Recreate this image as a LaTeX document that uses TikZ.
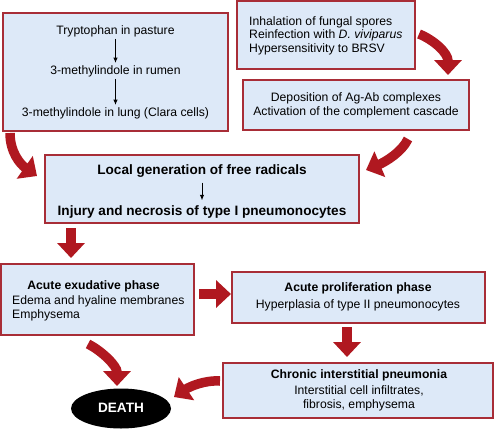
\documentclass[tikz,border=0pt]{standalone}
\usepackage{fontspec}
\setmainfont{Liberation Sans}
\usetikzlibrary{arrows.meta,shapes.geometric}
\definecolor{boxfill}{RGB}{221,233,248}
\definecolor{boxline}{RGB}{168,45,55}
\definecolor{arrred}{RGB}{176,24,32}
\begin{document}
\begin{tikzpicture}[x=1pt,y=-1pt,
  box/.style={draw=boxline, line width=1.3pt, fill=boxfill, inner sep=0pt},
  txt/.style={font=\fontsize{12.2}{14}\selectfont, inner sep=0pt, text height=8.9pt, text depth=2.6pt},
  btxt/.style={txt, font=\fontsize{12.2}{14}\selectfont\bfseries},
  bigtxt/.style={font=\fontsize{13.6}{16}\selectfont\bfseries, inner sep=0pt, text height=9.9pt, text depth=2.9pt},
  smallarr/.style={-{Latex[length=5.5pt,width=4.5pt]}, line width=1pt, shorten <=#1, shorten >=#1},
  bigarrow/.style={draw=arrred, line width=9.5pt, -{Triangle[length=15pt,width=27pt]}},
  straightarrow/.style={draw=arrred, line width=10pt, -{Triangle[length=15pt,width=27pt]}}
]
\useasboundingbox (0,0) rectangle (495,429);

% boxes
\node[box, minimum width=225pt, minimum height=118pt] (A) at (115.5,72) {};
\node[box, minimum width=178pt, minimum height=68pt] (B) at (326,35) {};
\node[box, minimum width=226pt, minimum height=50pt] (C) at (356,105) {};
\node[box, minimum width=314pt, minimum height=68pt] (D) at (202,189) {};
\node[box, minimum width=193pt, minimum height=71pt] (E) at (97.5,299.5) {};
\node[box, minimum width=253pt, minimum height=51pt] (F) at (358.5,297.5) {};
\node[box, minimum width=270pt, minimum height=55pt] (G) at (358,390.5) {};
\node[ellipse, fill=black, minimum width=100pt, minimum height=40pt, inner sep=0pt] (death) at (121,408.5) {};
\node[bigtxt, text=white] (deathtxt) at (death.center) {DEATH};

% box A
\node[txt] (a1) at (115.5,31) {Tryptophan in pasture};
\node[txt] (a2) at (115.5,71) {3-methylindole in rumen};
\node[txt] (a3) at (115.5,113) {3-methylindole in lung (Clara cells)};
\draw[smallarr=2pt] (a1) -- (a2);
\draw[smallarr=2pt] (a2) -- (a3);

% box B
\node[txt, anchor=west] (b1) at (249,22) {Inhalation of fungal spores};
\node[txt, anchor=west] (b2) at (249,35.5) {Reinfection with \textit{D. viviparus}};
\node[txt, anchor=west] (b3) at (249,49) {Hypersensitivity to BRSV};

% box C
\node[txt] (c1) at (356,98) {Deposition of Ag-Ab complexes};
\node[txt] (c2) at (356,112) {Activation of the complement cascade};

% box D
\node[bigtxt] (d1) at (202,171) {Local generation of free radicals};
\node[bigtxt] (d2) at (202,212) {Injury and necrosis of type I pneumonocytes};
\draw[smallarr=5pt] (d1) -- (d2);

% box E
\node[btxt] (e1) at (93.5,286) {Acute exudative phase};
\node[txt, anchor=west] (e2) at (12,301) {Edema and hyaline membranes};
\node[txt, anchor=west] (e3) at (12,315) {Emphysema};

% box F
\node[btxt] (f1) at (358,288) {Acute proliferation phase};
\node[txt] (f2) at (358,305) {Hyperplasia of type II pneumonocytes};

% box G
\node[btxt] (g1) at (359,375) {Chronic interstitial pneumonia};
\node[txt] (g2) at (359,391.5) {Interstitial cell infiltrates,};
\node[txt] (g3) at (359,405.5) {fibrosis, emphysema};

% big red arrows
\coordinate (r1s) at (10,133);
\coordinate (r1e) at (37,176);
\draw[bigarrow] (r1s) .. controls +(0,19) and +(-17,-12) .. (r1e);

\coordinate (r2s) at (419,34);
\coordinate (r2e) at (448,75);
\draw[bigarrow] (r2s) .. controls +(15,6) and +(0,-22) .. (r2e);

\coordinate (r3s) at (408,139);
\coordinate (r3e) at (366,170);
\draw[bigarrow] (r3s) .. controls +(-6,13) and +(19,-8) .. (r3e);

\coordinate (r4s) at (71,228);
\coordinate (r4e) at (71,258);
\draw[straightarrow] (r4s) -- (r4e);

\coordinate (r5s) at (199,294);
\coordinate (r5e) at (231,294);
\draw[straightarrow] (r5s) -- (r5e);

\coordinate (r6s) at (347,327);
\coordinate (r6e) at (347,357);
\draw[straightarrow] (r6s) -- (r6e);

\coordinate (r7s) at (88,344);
\coordinate (r7e) at (117,386);
\draw[bigarrow] (r7s) .. controls +(14,7) and +(0,-20) .. (r7e);

\coordinate (r8s) at (220,381);
\coordinate (r8e) at (174,397);
\draw[bigarrow] (r8s) .. controls +(-16,-1) and +(15,-10) .. (r8e);
\end{tikzpicture}
\end{document}
